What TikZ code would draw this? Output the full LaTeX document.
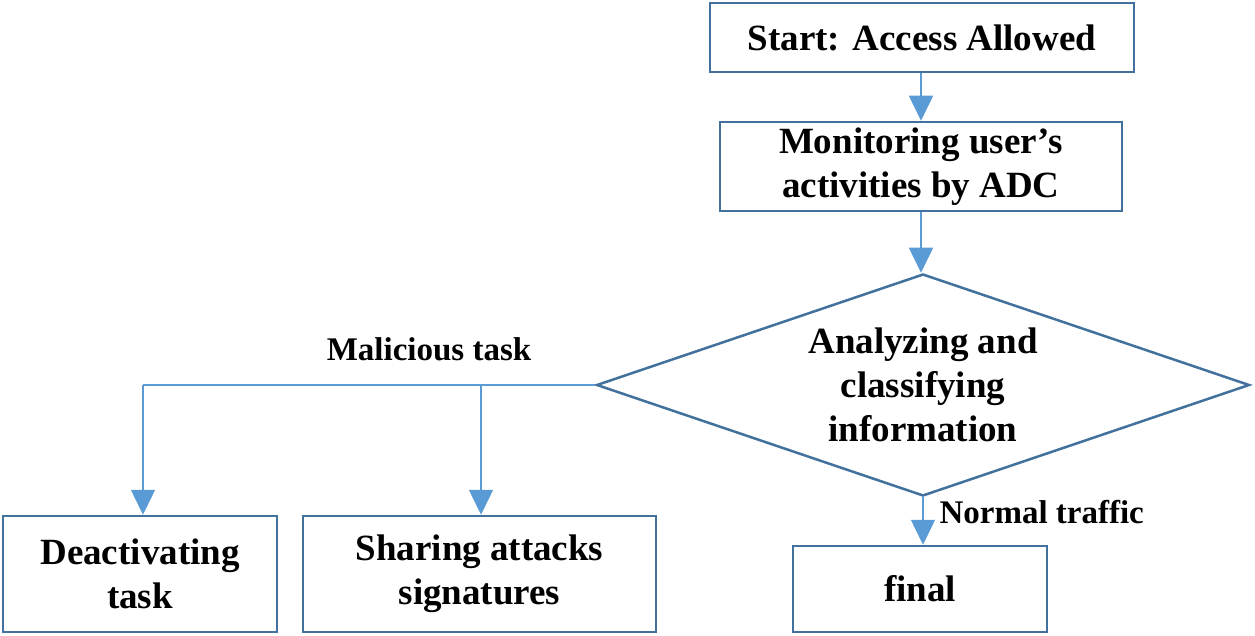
\documentclass[tikz,border=0pt]{standalone}
\usepackage{fontspec}
\setmainfont{Liberation Serif}
\usetikzlibrary{shapes.geometric,arrows.meta}
\definecolor{boxline}{HTML}{41719C}
\definecolor{arrline}{HTML}{5B9BD5}
\begin{document}
\begin{tikzpicture}[x=1pt,y=-1pt,
  txt/.style={font=\bfseries\fontsize{37}{44}\selectfont,align=center},
  lbl/.style={font=\bfseries\fontsize{33}{40}\selectfont,align=center},
  box/.style={draw=boxline,line width=2.5pt,fill=white,txt,inner sep=0pt},
  conn/.style={draw=arrline,line width=1.5pt},
  arr/.style={conn,-{Triangle[width=24pt,length=25pt]}}]
\path[use as bounding box,fill=white] (0,0) rectangle (1255,636);
\node[box,minimum width=424pt,minimum height=69pt] (start) at (922,37.5) {Start: Access Allowed};
\node[box,minimum width=402pt,minimum height=89pt] (mon) at (921,166.5) {Monitoring user’s\\activities by ADC};
\node[diamond,draw=boxline,line width=2.5pt,fill=white,txt,inner sep=0pt,aspect=2.94,minimum width=653pt,minimum height=222pt] (dec) at (923,385) {Analyzing and\\classifying\\information};
\node[box,minimum width=274pt,minimum height=116pt] (deact) at (140,574) {Deactivating\\task};
\node[box,minimum width=353pt,minimum height=116pt] (share) at (479.5,574) {Sharing attacks\\signatures};
\node[box,minimum width=254pt,minimum height=86pt] (final) at (920,589) {final};
\node[lbl] (mal) at (429,349) {Malicious task};
\node[lbl,anchor=west] (norm) at (936,512) {Normal traffic};
\coordinate (corner) at (143,0 |- dec.west);
\coordinate (branch) at (481,0 |- dec.west);
\draw[arr] (start.south -| mon.south) -- (mon.north);
\draw[arr] (mon.south) -- (mon.south |- dec.north);
\draw[conn] (dec.west) -- (corner);
\draw[arr] (corner) -- (deact.north -| corner);
\draw[arr] (branch) -- (share.north -| branch);
\draw[arr] (dec.south) -- (final.north -| dec.south);
\end{tikzpicture}
\end{document}
